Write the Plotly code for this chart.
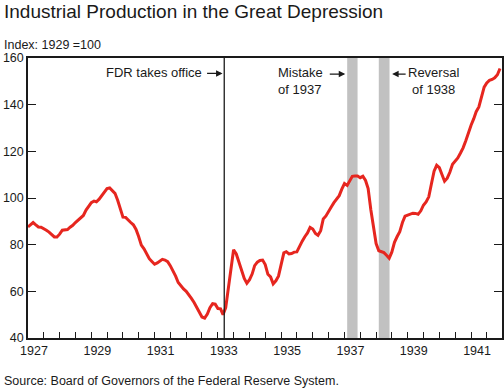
import pandas as pd
import plotly.graph_objects as go

# ---------------- data ----------------
start_month = "1927-01-01"
ip_index = [
    # 1927
    87.6, 88.5, 89.5, 88.5, 87.6, 87.5, 87.0, 86.2, 85.4, 84.5, 83.3, 83.3,
    # 1928
    84.5, 86.2, 86.3, 86.5, 87.5, 88.3, 89.5, 90.5, 91.5, 92.5, 94.8, 96.2,
    # 1929
    98.0, 98.7, 98.4, 99.5, 101.0, 102.5, 104.0, 104.3, 103.0, 102.0, 99.0, 95.0,
    # 1930
    91.8, 91.7, 90.5, 89.5, 88.5, 86.5, 83.5, 79.8, 78.2, 76.0, 74.0, 72.8,
    # 1931
    71.6, 72.2, 73.0, 73.7, 73.4, 72.7, 71.0, 69.0, 66.5, 63.8, 62.2, 61.0,
    # 1932
    60.0, 58.7, 57.0, 55.2, 53.0, 50.5, 49.0, 48.5, 50.3, 53.0, 54.7, 54.5,
    # 1933
    52.6, 52.5, 50.0, 53.0, 62.0, 70.0, 77.8, 76.0, 72.5, 68.5, 65.5, 63.5,
    # 1934
    65.0, 67.5, 71.0, 72.5, 73.2, 73.4, 71.5, 67.3, 66.2, 63.2, 64.5, 66.5,
    # 1935
    71.5, 76.5, 77.0, 76.0, 76.2, 76.8, 76.9, 79.5, 81.5, 83.4, 85.0, 87.4,
    # 1936
    86.7, 84.8, 84.0, 86.0, 91.0, 92.3, 94.5, 96.1, 98.0, 99.5, 101.0, 103.8,
    # 1937
    106.2, 105.4, 107.5, 109.3, 109.4, 109.4, 108.7, 109.3, 107.5, 104.0, 95.0, 87.5,
    # 1938
    80.5, 77.4, 77.0, 76.6, 75.5, 74.2, 76.8, 81.0, 83.5, 85.6, 89.5, 92.2,
    # 1939
    92.7, 93.2, 93.5, 93.4, 93.0, 94.5, 96.9, 98.3, 100.5, 106.0, 111.5, 114.0,
    # 1940
    113.0, 110.0, 107.2, 108.5, 111.0, 114.5, 116.0, 117.2, 119.3, 121.5, 124.5, 128.0,
    # 1941
    131.2, 134.0, 137.0, 139.0, 143.5, 147.5, 149.3, 150.4, 150.8, 151.5, 152.8, 155.5,
]
months = pd.date_range(start_month, periods=len(ip_index), freq="MS")

fdr_date = "1933-03-15"
mistake_period = ["1937-02-01", "1937-06-01"]
reversal_period = ["1938-02-01", "1938-06-05"]

tick_years = list(range(1927, 1942))
label_years = [1927, 1929, 1931, 1933, 1935, 1937, 1939, 1941]
y_ticks = [40, 60, 80, 100, 120, 140, 160]

title_text = "Industrial Production in the Great Depression"
units_text = "Index: 1929 =100"
source_text = "Source: Board of Governors of the Federal Reserve System."

# ---------------- figure ----------------
FONT = "Liberation Sans, Arial, Helvetica, sans-serif"
INK = "#1a1a1a"

tickvals, ticktext = [], []
for y in tick_years:
    tickvals.append(f"{y}-01-01")
    ticktext.append(str(y) if y in label_years else "")
    tickvals.append(f"{y}-07-01")
    ticktext.append("")

fig = go.Figure()
fig.add_trace(go.Scatter(
    x=months, y=ip_index, mode="lines",
    line=dict(color="#e6261f", width=3),
    hoverinfo="skip", showlegend=False,
))

for period in (mistake_period, reversal_period):
    fig.add_shape(type="rect", xref="x", yref="paper",
                  x0=period[0], x1=period[1], y0=0, y1=1,
                  fillcolor="#c1c1c1", line=dict(width=0), layer="below")

fig.add_shape(type="line", xref="x", yref="paper",
              x0=fdr_date, x1=fdr_date, y0=0, y1=1,
              line=dict(color=INK, width=1.3))

ann_font = dict(family=FONT, size=13, color=INK)

annotations = [
    dict(text=title_text, xref="paper", yref="paper", x=-0.054, y=1.166,
         xanchor="left", yanchor="middle", showarrow=False,
         font=dict(family=FONT, size=19, color=INK)),
    dict(text=units_text, xref="paper", yref="paper", x=-0.054, y=1.047,
         xanchor="left", yanchor="middle", showarrow=False,
         font=dict(family=FONT, size=12.5, color=INK)),
    dict(text=source_text, xref="paper", yref="paper", x=-0.054, y=-0.153,
         xanchor="left", yanchor="middle", showarrow=False,
         font=dict(family=FONT, size=12.5, color=INK)),
    # FDR
    dict(text="FDR takes office", xref="x", yref="y", x="1932-07-20", y=153.6,
         xanchor="right", yanchor="middle", showarrow=False, font=ann_font),
    dict(text="", xref="x", yref="y", x="1933-02-24", y=153.4,
         ax=-17, ay=0, showarrow=True, arrowhead=2, arrowsize=1,
         arrowwidth=1.3, arrowcolor=INK),
    # Mistake
    dict(text="Mistake<br>of 1937", xref="x", yref="y", x="1935-08-15", y=150.2,
         xanchor="center", yanchor="middle", align="left", showarrow=False,
         font=ann_font),
    dict(text="", xref="x", yref="y", x="1937-01-10", y=153.1,
         ax=-17, ay=0, showarrow=True, arrowhead=2, arrowsize=1,
         arrowwidth=1.3, arrowcolor=INK),
    # Reversal
    dict(text="Reversal<br>of 1938", xref="x", yref="y", x="1939-10-20", y=150.2,
         xanchor="center", yanchor="middle", align="center", showarrow=False,
         font=ann_font),
    dict(text="", xref="x", yref="y", x="1938-07-05", y=153.1,
         ax=15, ay=0, showarrow=True, arrowhead=2, arrowsize=1,
         arrowwidth=1.3, arrowcolor=INK),
]

fig.update_layout(
    width=504, height=389,
    margin=dict(l=28, r=2, t=58, b=51, autoexpand=False),
    paper_bgcolor="white", plot_bgcolor="white",
    font=dict(family=FONT, size=12.5, color=INK),
    annotations=annotations,
    showlegend=False,
)

fig.update_xaxes(
    type="date", range=["1927-01-01", "1941-12-24"],
    tickmode="array", tickvals=tickvals, ticktext=ticktext,
    ticks="inside", ticklen=6, tickwidth=1, tickcolor=INK,
    ticklabelshift=6, automargin=False,
    showline=True, linecolor=INK, linewidth=1.5, mirror=True,
    showgrid=False, zeroline=False,
    tickfont=dict(family=FONT, size=12.5, color=INK),
)
fig.update_yaxes(
    range=[40, 160], tickmode="array", tickvals=y_ticks,
    ticks="inside", ticklen=8, tickwidth=1, tickcolor=INK,
    showline=True, linecolor=INK, linewidth=1.5, mirror="ticks",
    showgrid=False, zeroline=False, automargin=False,
    tickfont=dict(family=FONT, size=12.5, color=INK),
)

fig.write_html(
    "out.html",
    config={"displayModeBar": False},
    post_script="document.body.style.margin='0px';document.body.style.padding='0px';document.body.style.overflow='hidden';",
)
